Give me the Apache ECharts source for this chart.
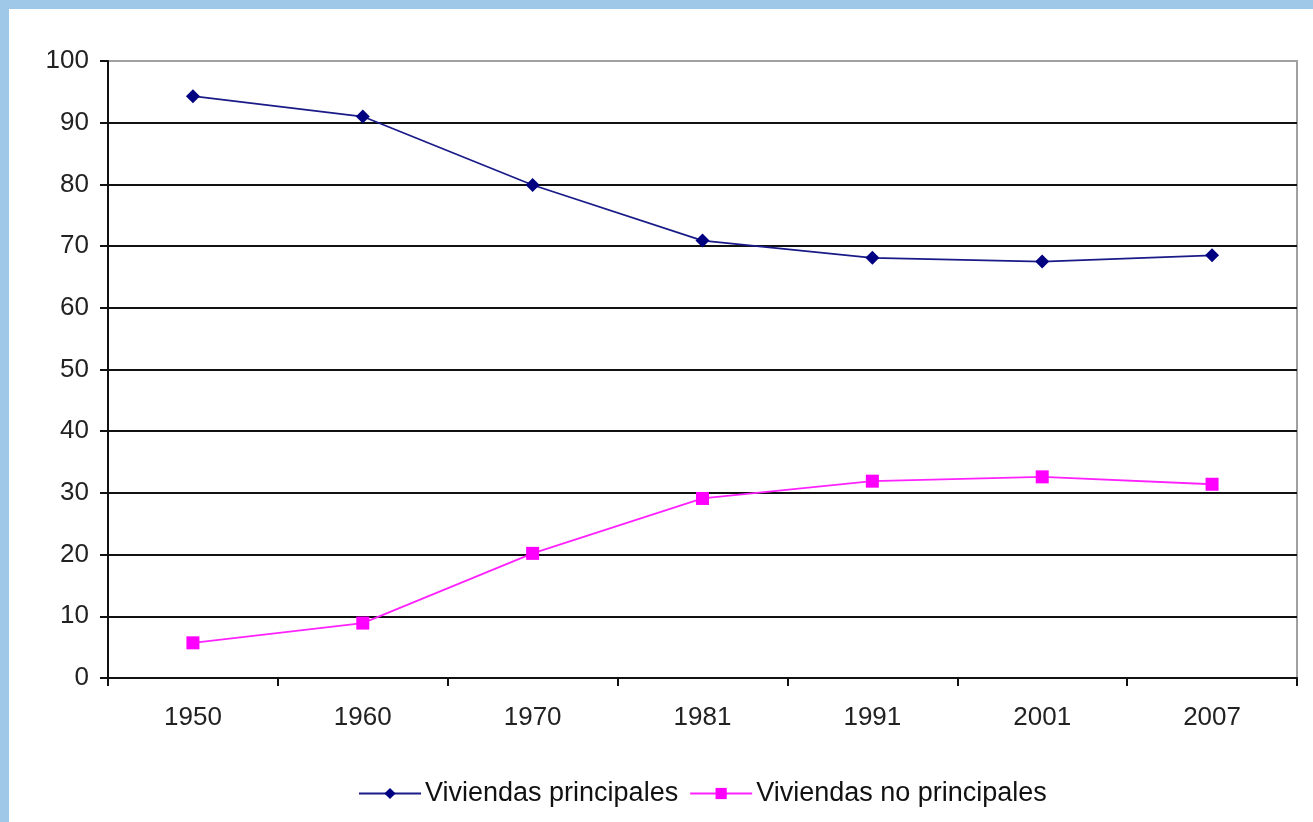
<!DOCTYPE html>
<html>
<head>
<meta charset="utf-8">
<script src="https://cdn.jsdelivr.net/npm/echarts@6/dist/echarts.min.js"></script>
<style>
  html, body { margin: 0; padding: 0; background: #fff; }
  #main { width: 1313px; height: 822px; }
</style>
</head>
<body>
<div id="main"></div>
<script>
// datos
var years = ['1950', '1960', '1970', '1981', '1991', '2001', '2007'];
var principales = [94.3, 91.0, 79.9, 70.9, 68.1, 67.5, 68.5];
var noPrincipales = [5.7, 8.9, 20.2, 29.1, 31.9, 32.6, 31.4];
var seriesNames = ['Viviendas principales', 'Viviendas no principales'];

var font = '"Liberation Sans", Arial, sans-serif';
var chart = echarts.init(document.getElementById('main'));

var option = {
    backgroundColor: '#fff',
    animation: false,
    textStyle: { fontFamily: font },
    graphic: [
        { type: 'rect', shape: { x: 0, y: 0, width: 1313, height: 9 }, style: { fill: '#9fc8e8' }, z: 100 },
        { type: 'rect', shape: { x: 0, y: 0, width: 9, height: 822 }, style: { fill: '#9fc8e8' }, z: 100 }
    ],
    grid: {
        left: 108,
        right: 16,
        top: 61,
        bottom: 144,
        show: true,
        borderColor: '#a0a0a0',
        borderWidth: 2,
        containLabel: false
    },
    legend: {
        top: 775,
        left: 353,
        itemWidth: 62,
        itemHeight: 14,
        itemGap: 11,
        data: seriesNames,
        textStyle: { fontSize: 27, color: '#111', fontFamily: font, padding: [0, 0, 0, -1] }
    },
    xAxis: {
        type: 'category',
        boundaryGap: true,
        data: years,
        axisLine: { lineStyle: { color: '#111', width: 2 } },
        axisTick: { show: true, alignWithLabel: false, length: 8, lineStyle: { color: '#111', width: 2 } },
        axisLabel: { fontSize: 26, color: '#222', margin: 27, fontFamily: font },
        splitLine: { show: false }
    },
    yAxis: {
        type: 'value',
        min: 0,
        max: 100,
        interval: 10,
        axisLine: { show: true, lineStyle: { color: '#111', width: 2 } },
        axisTick: { show: true, length: 8, lineStyle: { color: '#111', width: 2 } },
        axisLabel: { fontSize: 26, color: '#222', margin: 19, fontFamily: font },
        splitLine: { show: true, showMaxLine: false, lineStyle: { color: '#111', width: 1.8 } }
    },
    series: [
        {
            name: seriesNames[0],
            type: 'line',
            data: principales,
            symbol: 'diamond',
            symbolSize: 14,
            color: '#000080',
            lineStyle: { color: '#1a1a88', width: 1.8 },
            itemStyle: { color: '#000080' }
        },
        {
            name: seriesNames[1],
            type: 'line',
            data: noPrincipales,
            symbol: 'rect',
            symbolSize: 13,
            color: '#ff00ff',
            lineStyle: { color: '#ff22ff', width: 1.8 },
            itemStyle: { color: '#ff00ff' }
        }
    ]
};

chart.setOption(option);
</script>
</body>
</html>
